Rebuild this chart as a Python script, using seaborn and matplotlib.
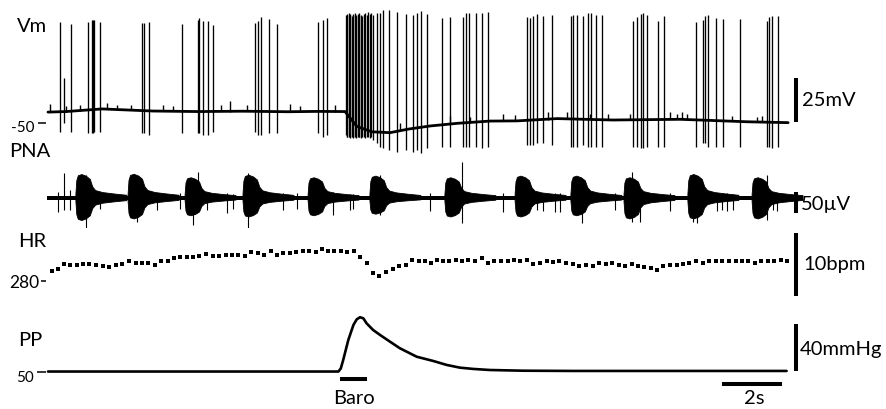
import numpy as np
import matplotlib
matplotlib.use("Agg")
import matplotlib.pyplot as plt
import seaborn as sns

# ------------------------------------------------------------------ data
# Vm: action potentials (time s, peak mV, trough mV)
vm_pre_t = [0.400, 0.543, 0.757, 1.343, 1.457, 1.510, 1.543, 1.723, 3.123, 3.210,
            3.357, 4.457, 4.990, 5.043, 5.177, 5.323, 5.510, 6.900, 7.010, 7.100,
            7.377, 7.623, 8.990, 9.157, 9.290]
vm_pre_peak = [7.6, -24.4, 6.3, 7.6, 8.5, 8.5, 8.5, 7.6, 6.6, 7.0, 7.6, 6.3, 8.5, 9.5,
               8.1, 8.1, 5.7, 6.6, 8.1, 10.1, 8.9, 6.3, 7.6, 8.5, 9.5]
vm_pre_trough = [-54.9, -50.0, -54.9, -55.9, -55.9, -55.9, -54.9, -54.9, -55.9, -55.9,
                 -56.8, -55.9, -55.9, -55.9, -56.8, -56.8, -54.9, -54.9, -56.8, -56.8,
                 -55.9, -55.9, -55.9, -57.8, -56.8]

vm_burst_t = [9.917, 9.950, 9.983, 10.017, 10.050, 10.083, 10.117, 10.150, 10.183, 10.217,
              10.250, 10.283, 10.317, 10.350, 10.383, 10.417, 10.467, 10.517, 10.567, 10.617,
              10.667, 10.717, 10.767]
vm_burst_peak = [11.4, 11.9, 11.4, 12.3, 11.4, 11.9, 10.8, 11.9, 11.4, 12.3, 11.4, 10.8,
                 11.9, 11.4, 12.3, 11.4, 10.8, 11.9, 12.3, 11.4, 13.2, 11.9, 12.7]
vm_burst_trough = [-56.8, -57.8, -58.0, -57.8, -58.5, -57.8, -58.0, -57.8, -58.5, -58.0,
                   -57.8, -58.5, -58.0, -57.8, -58.0, -58.5, -57.8, -58.0, -58.5, -58.0,
                   -57.8, -58.5, -58.0]

vm_post_t = [10.843, 10.977, 11.067, 11.177, 11.357, 11.623, 11.933, 12.177, 12.310, 12.433,
             12.623, 13.143, 13.400, 13.823, 13.933, 14.033, 14.257, 14.457, 14.657, 15.957,
             16.067, 16.177, 16.290, 16.490, 16.790, 17.433, 17.510, 17.623, 17.843, 18.000,
             18.100, 18.257, 18.477, 19.490, 19.623, 19.757, 19.843, 19.957, 20.343, 20.533,
             21.590, 21.843, 21.900, 22.010, 22.257, 22.510, 23.067, 23.957, 24.033, 24.123,
             24.323]
vm_post_peak = [11.4, 12.3, 12.7, 14.2, 14.2, 13.2, 11.9, 11.4, 12.3, 13.6,
                11.9, 9.5, 10.4, 10.4, 12.3, 12.3, 12.7, 12.7, 13.2, 10.4,
                9.5, 10.8, 11.9, 10.8, 11.4, 10.8, 11.4, 11.4, 10.8, 12.3,
                12.7, 11.4, 11.4, 8.1, 10.4, 11.9, 12.3, 11.4, 8.1, 10.8,
                7.6, 8.5, 10.8, 11.4, 9.5, 8.9, 8.9, 8.1, 10.1, 10.8,
                10.8]
vm_post_trough = [-59.7, -61.5, -63.5, -64.4, -65.3, -66.3, -65.3, -66.3, -65.3, -67.2,
                  -64.4, -63.5, -63.5, -63.5, -63.5, -63.5, -63.5, -64.4, -63.5, -62.5,
                  -62.5, -62.5, -61.5, -61.5, -62.5, -63.5, -63.5, -63.5, -62.5, -63.5,
                  -63.5, -63.5, -63.5, -63.5, -63.5, -64.4, -64.4, -63.5, -63.5, -63.5,
                  -63.5, -61.5, -61.5, -63.5, -63.5, -63.5, -63.5, -63.5, -63.5, -64.4,
                  -63.5]

# Vm resting membrane potential (time s, mV)
vm_base_t = [0.0, 0.6, 1.8, 2.5, 3.5, 5.0, 6.5, 8.0, 9.0, 9.9, 10.3, 10.8, 11.4, 12.0,
             12.73, 13.63, 14.73, 15.63, 16.97, 18.83, 21.07, 23.3, 24.67]
vm_base_v = [-43.8, -43.5, -42.0, -42.5, -43.2, -43.5, -43.3, -43.6, -43.4, -43.5, -52.0,
             -55.0, -55.5, -53.5, -51.7, -50.2, -48.9, -48.8, -47.5, -48.3, -47.9, -49.3,
             -49.8]

# Vm small synaptic potentials (time s, base mV, top mV)
vm_epsp_t = [0.07, 0.60, 1.07, 1.97, 2.30, 2.75, 3.83, 4.17, 5.75, 6.07, 6.63, 8.07,
             8.40, 9.57, 11.73, 13.40, 14.07, 15.17, 15.57, 16.67, 17.30, 18.07, 18.67,
             19.40, 20.73, 20.97, 21.13, 21.30, 22.80, 23.63, 23.80]
vm_epsp_base = [-43.8, -43.5, -43.0, -42.0, -42.2, -42.6, -43.3, -43.4, -43.4, -43.5,
                -43.4, -43.5, -43.5, -43.5, -54.3, -50.8, -50.0, -48.9, -48.8, -48.2,
                -47.7, -48.0, -48.3, -48.2, -48.0, -48.0, -48.0, -48.0, -48.9, -49.4,
                -49.5]
vm_epsp_top = [-39.0, -40.5, -40.0, -38.5, -40.0, -39.5, -39.5, -40.5, -39.8, -37.5,
               -40.0, -39.0, -40.5, -40.0, -50.0, -46.0, -46.5, -45.0, -45.5, -44.0,
               -43.5, -45.0, -45.0, -45.0, -43.5, -45.0, -44.0, -45.0, -46.0, -46.5,
               -46.0]

# PNA: inspiratory bursts (onset s, upper / lower amplitude uV)
pna_onset = [0.93, 2.67, 4.57, 6.50, 8.67, 10.73, 13.23, 15.57, 17.43, 19.20, 21.33, 23.47]
pna_up = [58.8, 59.5, 50.7, 57.0, 50.7, 54.8, 50.7, 54.8, 54.8, 50.7, 58.8, 50.7]
pna_down = [56.4, 52.4, 44.5, 47.6, 44.5, 40.5, 47.6, 47.6, 44.5, 52.4, 52.4, 52.4]
pna_tonic = 5.0          # uV, half-width of the background activity
pna_span = [-0.03, 24.67]
# isolated large units (time s, upper uV, lower uV)
pna_unit_t = [0.34, 0.54, 0.73, 1.27, 1.73, 2.96, 3.62, 4.40, 4.84, 4.99, 5.29, 5.96,
              6.18, 6.68, 7.84, 8.29, 9.50, 10.07, 10.18, 11.07, 12.73, 13.81, 15.15,
              16.29, 16.51, 16.90, 17.07, 17.79, 18.90, 19.46, 19.73, 20.73, 21.51, 21.62,
              22.29, 22.46, 22.62, 22.84, 23.96, 24.18, 24.29]
pna_unit_up = [15, 59, 19, 55, 12, 20, 12, 12, 20, 63, 12, 12,
               10, 59, 12, 12, 14, 10, 10, 55, 12, 86, 12,
               12, 10, 12, 12, 20, 12, 63, 20, 12, 55, 20,
               12, 10, 12, 10, 55, 12, 12]
pna_unit_down = [-33, -29, -29, -76, -26, -56, -28, -26, -64, -30, -28, -36,
                 -26, -72, -28, -26, -40, -28, -26, -40, -30, -60, -33,
                 -28, -30, -33, -33, -60, -28, -56, -56, -30, -56, -60,
                 -30, -28, -30, -28, -52, -28, -30]

# HR: beat-by-beat heart rate (time s, bpm)
hr_t = [0.12, 0.32, 0.54, 0.73, 0.96, 1.16, 1.38, 1.60, 1.82, 2.03,
        2.27, 2.48, 2.70, 2.92, 3.12, 3.34, 3.57, 3.77, 3.99, 4.21,
        4.40, 4.62, 4.84, 5.04, 5.27, 5.49, 5.70, 5.92, 6.13, 6.34,
        6.57, 6.77, 6.99, 7.20, 7.42, 7.62, 7.84, 8.07, 8.27, 8.49,
        8.70, 8.92, 9.12, 9.34, 9.54, 9.77, 9.98, 10.20, 10.40, 10.62,
        10.84, 11.04, 11.27, 11.49, 11.71, 11.92, 12.14, 12.37, 12.57, 12.78,
        12.98, 13.18, 13.38, 13.59, 13.79, 14.01, 14.23, 14.46, 14.68, 14.88,
        15.10, 15.32, 15.54, 15.73, 15.96, 16.18, 16.40, 16.62, 16.84, 17.04,
        17.27, 17.49, 17.71, 17.93, 18.16, 18.38, 18.59, 18.81, 19.03, 19.23,
        19.46, 19.66, 19.88, 20.10, 20.29, 20.51, 20.73, 20.96, 21.18, 21.38,
        21.60, 21.82, 22.04, 22.27, 22.48, 22.70, 22.92, 23.12, 23.34, 23.57,
        23.77, 23.99, 24.21, 24.42, 24.62]
hr_bpm = [281.6, 281.9, 282.7, 282.5, 282.5, 282.7, 282.7, 282.5, 282.4, 282.3,
          282.5, 282.7, 283.2, 282.8, 282.8, 282.9, 282.5, 283.2, 283.2, 283.6,
          283.8, 283.8, 283.8, 284.0, 284.3, 284.0, 284.0, 284.2, 284.1, 284.1,
          284.0, 284.6, 284.4, 284.2, 284.8, 284.2, 284.4, 284.5, 284.6, 284.7,
          284.7, 284.6, 285.1, 284.8, 284.8, 284.8, 284.6, 284.8, 283.8, 282.8,
          281.2, 280.8, 281.4, 281.9, 282.4, 282.5, 283.4, 283.2, 283.2, 282.9,
          283.3, 283.2, 283.1, 283.4, 283.1, 283.3, 283.2, 283.6, 282.9, 283.2,
          283.2, 283.1, 283.3, 283.1, 283.4, 282.7, 282.8, 283.1, 283.0, 283.1,
          282.9, 282.7, 282.4, 282.5, 282.4, 282.8, 282.7, 282.9, 282.5, 282.4,
          282.7, 282.4, 282.3, 282.1, 281.7, 282.4, 282.5, 282.5, 282.7, 282.8,
          283.1, 282.8, 283.2, 283.2, 283.1, 283.2, 283.1, 283.1, 283.1, 282.8,
          283.2, 283.1, 283.1, 283.3, 283.2]

# PP: perfusion pressure (time s, mmHg)
pp_t = [0.0, 9.68, 9.76, 9.84, 10.01, 10.18, 10.29, 10.40, 10.51, 10.62, 10.84, 11.07,
        11.40, 11.73, 12.29, 12.84, 13.29, 13.73, 14.18, 14.73, 15.84, 17.50, 24.62]
pp_v = [50.4, 50.4, 53.0, 60.2, 77.2, 90.0, 94.8, 96.6, 95.7, 91.4, 85.7, 81.5,
        75.8, 70.2, 63.0, 59.4, 56.0, 53.7, 52.6, 51.7, 51.1, 50.9, 50.9]

# stimulus and scale bars
baro_on_off = [9.73, 10.63]
time_bar = [22.46, 24.46]                # 2 s
scale_vm = [-49.4, -24.4]                # 25 mV
scale_pna = [-35.7, 14.3]                # 50 uV
scale_hr = [277.6, 287.6]                # 10 bpm
scale_pp = [50.9, 90.9]                  # 40 mmHg

# ------------------------------------------------------------------ style / layout
sns.set_theme(style="white")
plt.rcParams["font.family"] = ["Lato", "DejaVu Sans"]
plt.rcParams["text.color"] = "black"

W, H = 886, 409
fig = plt.figure(figsize=(W / 100, H / 100), dpi=100)
fig.patch.set_facecolor("white")

AX_LEFT_PX = 46
PX_PER_S = 30.0
T0_PX = 48
t_left = (AX_LEFT_PX - T0_PX) / PX_PER_S
t_right = (W - T0_PX) / PX_PER_S
BAR_T = (796 - T0_PX) / PX_PER_S
K = "black"
LABEL_SIZE = 14.5


def band_axes(top_px, bot_px, ref_val, ref_px, px_per_unit):
    ax = fig.add_axes([AX_LEFT_PX / W, 1 - bot_px / H,
                       (W - AX_LEFT_PX) / W, (bot_px - top_px) / H])
    ax.set_xlim(t_left, t_right)
    ax.set_ylim(ref_val - (bot_px - ref_px) / px_per_unit,
                ref_val + (ref_px - top_px) / px_per_unit)
    ax.set_facecolor("none")
    for sp in ax.spines.values():
        sp.set_visible(False)
    ax.set_xticks([])
    return ax


def y_tick(ax, val, label, tick_px, label_dx, label_dy, size):
    ax.set_yticks([val])
    ax.tick_params(axis="y", which="both", left=True, labelleft=False,
                   length=tick_px * 0.72, width=1.1, color=K, direction="out")
    ax.annotate(label, xy=(0, val), xycoords=("axes fraction", "data"),
                xytext=(label_dx, label_dy), textcoords="offset pixels",
                ha="right", va="center_baseline", fontsize=size, color=K)


def px_text(x, y, s, size=LABEL_SIZE, ha="left", va="baseline"):
    fig.text(x / W, 1 - y / H, s, fontsize=size, ha=ha, va=va, color=K)


# ---------------- Vm
ax_vm = band_axes(0, 160, -50, 123, 1.76)
sns.lineplot(x=vm_base_t, y=vm_base_v, ax=ax_vm, color=K, linewidth=2.0,
             sort=False, estimator=None)
ax_vm.vlines(vm_epsp_t, vm_epsp_base, vm_epsp_top, color=K, linewidth=1.0)
ax_vm.vlines(vm_pre_t, vm_pre_trough, vm_pre_peak, color=K, linewidth=0.95)
ax_vm.vlines(vm_burst_t, vm_burst_trough, vm_burst_peak, color=K, linewidth=0.95)
ax_vm.vlines(vm_post_t, vm_post_trough, vm_post_peak, color=K, linewidth=0.95)
ax_vm.vlines([BAR_T], scale_vm[0], scale_vm[1], color=K, linewidth=2.9)
y_tick(ax_vm, -50, "-50", 8, -12, -3, 11)
ax_vm.set_ylabel("")

# ---------------- PNA
ax_pna = band_axes(160, 228, 0, 198, 0.42)
ax_pna.fill_between(pna_span, [-pna_tonic, -pna_tonic], [pna_tonic, pna_tonic],
                    color=K, linewidth=0)
shape_dt = [0.0, 0.03, 0.08, 0.20, 0.35, 0.48, 0.56, 0.66, 0.90, 1.30, 1.70]
shape_rel = [0.15, 0.70, 0.90, 0.95, 0.88, 0.75, 0.45, 0.30, 0.22, 0.16, 0.11]
for on, au, ad in zip(pna_onset, pna_up, pna_down):
    xs = [on + d for d in shape_dt] + [on + d for d in shape_dt[::-1]]
    ys = [au * r for r in shape_rel] + [-ad * r for r in shape_rel[::-1]]
    ax_pna.fill(xs, ys, color=K, linewidth=0.6)
ax_pna.vlines(pna_unit_t, pna_unit_down, pna_unit_up, color=K, linewidth=0.8)
ax_pna.vlines([BAR_T], scale_pna[0], scale_pna[1], color=K, linewidth=2.9)
ax_pna.set_yticks([])
ax_pna.set_ylabel("")

# ---------------- HR
ax_hr = band_axes(228, 300, 280, 281, 6.3)
sns.scatterplot(x=hr_t, y=hr_bpm, ax=ax_hr, marker="s", s=7, color=K,
                linewidth=0, legend=False)
ax_hr.vlines([BAR_T], scale_hr[0], scale_hr[1], color=K, linewidth=2.9)
y_tick(ax_hr, 280, "280", 5, -7, 0, 12.5)
ax_hr.set_ylabel("")

# ---------------- PP
ax_pp = band_axes(300, 409, 50, 372, 1.175)
sns.lineplot(x=pp_t, y=pp_v, ax=ax_pp, color=K, linewidth=1.9,
             sort=False, estimator=None)
ax_pp.vlines([BAR_T], scale_pp[0], scale_pp[1], color=K, linewidth=2.9)
ax_pp.hlines([44.0], baro_on_off[0], baro_on_off[1], color=K, linewidth=2.9)
ax_pp.hlines([39.8], time_bar[0], time_bar[1], color=K, linewidth=2.9)
y_tick(ax_pp, 50, "50", 9.5, -12, -4, 11)
ax_pp.set_ylabel("")

# ---------------- labels
px_text(17, 32, "Vm")
px_text(9, 157, "PNA")
px_text(18, 247, "HR")
px_text(18, 346, "PP")
px_text(802, 106, "25mV")
px_text(801, 210, "50\u00b5V")
px_text(803, 270, "10bpm")
px_text(800, 355, "40mmHg")
px_text(353.5, 404, "Baro", ha="center")
px_text(754.5, 404, "2s", ha="center")

fig.savefig("out.png", dpi=100, facecolor="white")
